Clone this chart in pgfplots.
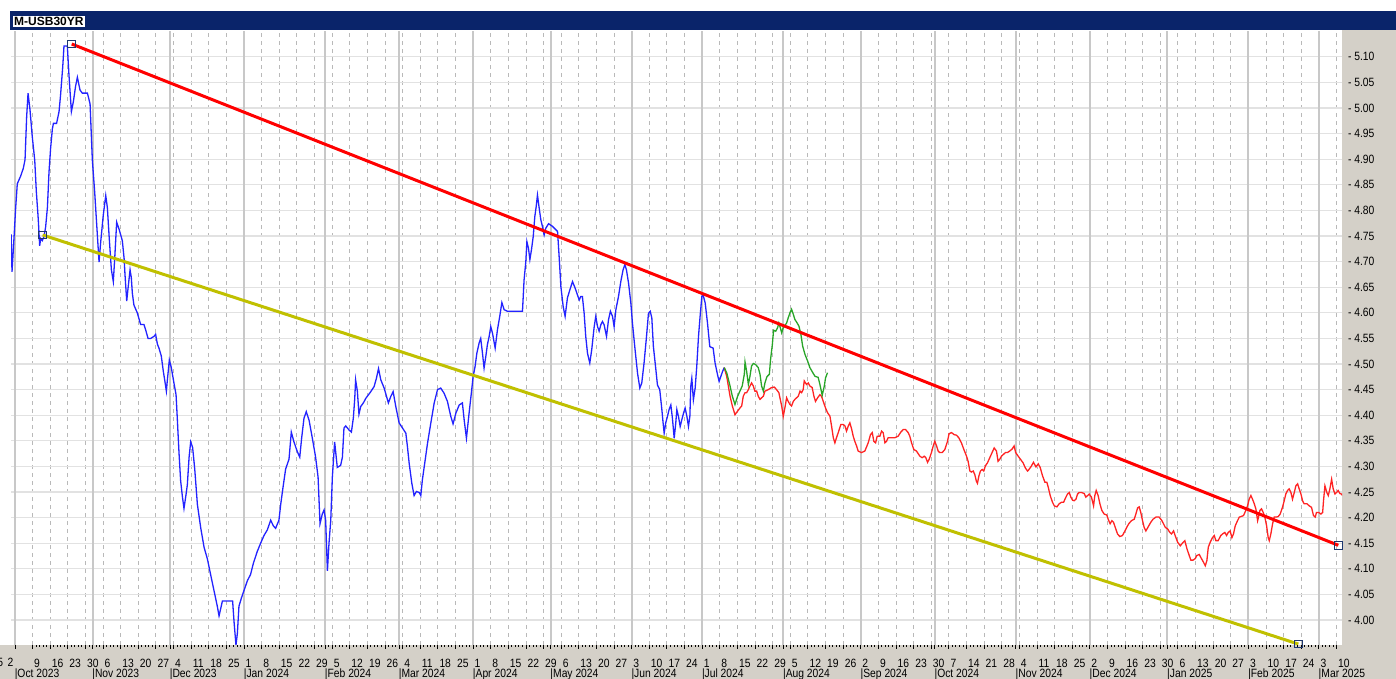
\documentclass[border=0pt]{standalone}
\usepackage{pgfplots}
\pgfplotsset{compat=1.18}
\usepackage{fontspec}
\setmainfont{Liberation Sans}
\newfontfamily\lbl{Liberation Sans}[FakeStretch=0.86]
\definecolor{navybar}{RGB}{10,36,106}
\definecolor{panel}{RGB}{212,208,200}
\definecolor{hgrid}{RGB}{226,226,226}
\definecolor{wgrid}{RGB}{185,185,185}
\definecolor{mgrid}{RGB}{200,200,200}
\definecolor{blueline}{RGB}{35,35,255}
\definecolor{redthin}{RGB}{255,35,35}
\definecolor{greenline}{RGB}{40,165,40}
\definecolor{trendred}{RGB}{255,0,0}
\definecolor{trendyel}{RGB}{192,192,0}
\definecolor{sqnavy}{RGB}{30,55,110}
\begin{document}
\begin{tikzpicture}
\useasboundingbox (0,0) rectangle (698pt,339.5pt);
\fill[white] (0,0) rectangle (698pt,339.5pt);
\fill[panel] (0,0) rectangle (698pt,17pt);
\fill[panel] (671pt,0) rectangle (698pt,324.5pt);
\fill[navybar] (5pt,324.5pt) rectangle (698pt,334pt);
\begin{axis}[
  at={(5.5pt,17pt)}, anchor=south west,
  scale only axis, width=665.5pt, height=307pt,
  xmin=-0.227, xmax=75.31, ymin=3.9512, ymax=5.1504,
  axis x line*=bottom, axis y line*=right,
  axis line style={draw=none},
  tick align=outside,
  major tick length=2pt, minor tick length=1pt,
  xtick={1,...,75},
  xticklabels={9,16,23,30,6,13,20,27,4,11,18,25,1,8,15,22,29,5,12,19,26,4,11,18,25,1,8,15,22,29,6,13,20,27,3,10,17,24,1,8,15,22,29,5,12,19,26,2,9,16,23,30,7,14,21,28,4,11,18,25,2,9,16,23,30,6,13,20,27,3,10,17,24,3,10},
  minor x tick num=4,
  xtick style={black, line width=0.5pt},
  minor x tick style={black, line width=0.5pt},
  xticklabel style={font=\lbl\fontsize{6pt}{7pt}\selectfont, anchor=base west, inner sep=0pt, xshift=0.6pt, yshift=-9.2pt},
  extra x ticks={0,4.4,8.8,13,17.6,21.8,26,30.4,35,39,43.6,48,52.2,56.8,61,65.4,70,74},
  extra x tick labels={|Oct 2023,|Nov 2023,|Dec 2023,|Jan 2024,|Feb 2024,|Mar 2024,|Apr 2024,|May 2024,|Jun 2024,|Jul 2024,|Aug 2024,|Sep 2024,|Oct 2024,|Nov 2024,|Dec 2024,|Jan 2025,|Feb 2025,|Mar 2025},
  extra x tick style={grid=major, major grid style={solid, draw=mgrid, line width=1pt},
     xticklabel style={yshift=-5.2pt, xshift=-0.9pt}},
  ytick={4.00,4.05,4.10,4.15,4.20,4.25,4.30,4.35,4.40,4.45,4.50,4.55,4.60,4.65,4.70,4.75,4.80,4.85,4.90,4.95,5.00,5.05,5.10},
  yticklabels={- 4.00,- 4.05,- 4.10,- 4.15,- 4.20,- 4.25,- 4.30,- 4.35,- 4.40,- 4.45,- 4.50,- 4.55,- 4.60,- 4.65,- 4.70,- 4.75,- 4.80,- 4.85,- 4.90,- 4.95,- 5.00,- 5.05,- 5.10},
  ytick style={draw=none},
  yticklabel style={font=\lbl\fontsize{6pt}{7pt}\selectfont, anchor=west, inner sep=0pt, xshift=0.8pt},
  grid=major,
  major grid style={dash pattern=on 2pt off 2pt, draw=wgrid, line width=0.5pt},
  major y grid style={solid, draw=hgrid, line width=0.6pt},
]
% blue: history
\addplot[blueline, line width=0.65pt, no marks] table {
-0.22 4.753
-0.17 4.680
-0.09 4.726
0.04 4.806
0.13 4.852
0.32 4.867
0.47 4.882
0.57 4.899
0.66 4.982
0.74 5.029
0.85 4.997
0.98 4.944
1.12 4.898
1.21 4.837
1.32 4.783
1.40 4.731
1.46 4.745
1.55 4.741
1.65 4.749
1.74 4.768
1.84 4.806
1.93 4.875
2.02 4.921
2.12 4.959
2.18 4.970
2.36 4.970
2.50 4.993
2.59 5.027
2.71 5.081
2.78 5.121
2.97 5.121
3.06 5.066
3.20 4.993
3.31 5.012
3.44 5.043
3.54 5.060
3.69 5.035
3.82 5.029
4.11 5.029
4.26 5.008
4.39 4.898
4.52 4.837
4.63 4.776
4.77 4.699
4.86 4.737
5.01 4.791
5.15 4.829
5.24 4.806
5.35 4.745
5.47 4.684
5.58 4.661
5.66 4.707
5.77 4.777
5.90 4.764
6.09 4.741
6.19 4.707
6.24 4.676
6.34 4.623
6.41 4.646
6.53 4.684
6.60 4.669
6.66 4.638
6.75 4.615
6.94 4.600
7.13 4.577
7.32 4.577
7.42 4.566
7.55 4.550
7.70 4.550
7.89 4.554
7.98 4.558
8.08 4.539
8.17 4.531
8.30 4.516
8.42 4.485
8.49 4.470
8.59 4.447
8.65 4.470
8.76 4.508
8.87 4.493
9.02 4.463
9.14 4.440
9.21 4.394
9.31 4.325
9.40 4.272
9.50 4.241
9.59 4.218
9.69 4.241
9.78 4.264
9.88 4.318
9.97 4.348
10.08 4.337
10.20 4.295
10.35 4.226
10.54 4.180
10.73 4.142
10.92 4.119
11.10 4.089
11.29 4.058
11.48 4.027
11.58 4.008
11.77 4.037
12.35 4.037
12.43 3.997
12.54 3.951
12.62 3.974
12.71 4.027
12.85 4.043
13.00 4.058
13.19 4.077
13.37 4.089
13.53 4.111
13.75 4.134
13.94 4.150
14.13 4.165
14.32 4.176
14.51 4.195
14.66 4.184
14.79 4.179
14.98 4.195
15.08 4.226
15.23 4.264
15.36 4.295
15.55 4.314
15.68 4.367
15.83 4.348
16.02 4.329
16.16 4.318
16.27 4.356
16.40 4.394
16.53 4.407
16.69 4.390
16.87 4.356
17.06 4.318
17.20 4.279
17.31 4.188
17.44 4.207
17.54 4.215
17.63 4.195
17.73 4.096
17.82 4.150
17.92 4.195
18.01 4.279
18.14 4.348
18.29 4.298
18.48 4.302
18.58 4.318
18.67 4.375
18.77 4.379
18.96 4.371
19.09 4.367
19.20 4.394
19.28 4.432
19.33 4.469
19.43 4.447
19.52 4.402
19.62 4.417
19.77 4.424
19.91 4.433
20.19 4.446
20.38 4.456
20.51 4.472
20.63 4.491
20.76 4.469
20.95 4.453
21.19 4.424
21.33 4.437
21.46 4.446
21.61 4.417
21.80 4.385
21.99 4.375
22.18 4.365
22.27 4.339
22.37 4.306
22.52 4.267
22.65 4.243
22.78 4.251
22.94 4.249
23.03 4.243
23.12 4.274
23.28 4.313
23.41 4.345
23.60 4.385
23.79 4.424
23.98 4.450
24.16 4.453
24.35 4.443
24.54 4.427
24.73 4.398
24.86 4.383
25.02 4.404
25.21 4.420
25.39 4.424
25.49 4.391
25.62 4.355
25.77 4.404
25.92 4.450
26.00 4.476
26.11 4.495
26.21 4.521
26.34 4.541
26.43 4.550
26.53 4.521
26.62 4.492
26.72 4.515
26.81 4.538
26.91 4.554
27.00 4.573
27.10 4.560
27.25 4.531
27.38 4.567
27.51 4.593
27.63 4.620
27.76 4.606
27.95 4.603
28.80 4.603
28.89 4.664
28.99 4.700
29.05 4.739
29.14 4.726
29.22 4.704
29.31 4.723
29.41 4.749
29.50 4.788
29.58 4.808
29.65 4.830
29.75 4.804
29.84 4.782
29.93 4.769
30.03 4.752
30.12 4.765
30.28 4.774
30.50 4.769
30.79 4.759
30.88 4.710
30.98 4.651
31.11 4.612
31.22 4.593
31.35 4.629
31.49 4.645
31.64 4.661
31.79 4.648
31.92 4.635
32.02 4.625
32.11 4.632
32.20 4.632
32.30 4.599
32.39 4.554
32.49 4.521
32.62 4.502
32.73 4.528
32.87 4.573
32.96 4.593
33.06 4.573
33.15 4.564
33.25 4.577
33.34 4.583
33.43 4.577
33.57 4.554
33.68 4.586
33.79 4.603
33.91 4.593
34.00 4.573
34.10 4.606
34.25 4.632
34.38 4.661
34.51 4.684
34.61 4.694
34.70 4.684
34.82 4.658
34.95 4.619
35.04 4.580
35.19 4.528
35.33 4.482
35.46 4.453
35.57 4.463
35.70 4.502
35.84 4.554
35.95 4.599
36.05 4.603
36.14 4.590
36.23 4.534
36.37 4.489
36.46 4.459
36.59 4.450
36.71 4.411
36.78 4.385
36.84 4.365
36.93 4.385
37.03 4.398
37.12 4.411
37.22 4.420
37.31 4.394
37.41 4.355
37.50 4.385
37.56 4.411
37.65 4.398
37.75 4.378
37.84 4.391
37.94 4.404
38.03 4.414
38.13 4.398
38.22 4.378
38.30 4.398
38.35 4.456
38.41 4.472
38.50 4.430
38.60 4.453
38.69 4.495
38.79 4.554
38.88 4.593
38.98 4.632
39.05 4.635
39.17 4.619
39.30 4.580
39.43 4.534
39.62 4.531
39.73 4.502
39.87 4.479
39.96 4.466
40.06 4.476
40.15 4.485
40.25 4.493
};
% thin red
\addplot[redthin, line width=0.65pt, no marks] table {
40.25 4.493
40.39 4.476
40.58 4.437
40.71 4.418
40.86 4.401
41.01 4.408
41.14 4.414
41.24 4.418
41.33 4.437
41.43 4.444
41.52 4.444
41.62 4.450
41.71 4.457
41.80 4.463
41.90 4.457
41.99 4.447
42.09 4.447
42.18 4.437
42.28 4.431
42.37 4.434
42.47 4.437
42.56 4.447
42.75 4.450
42.94 4.454
43.09 4.455
43.22 4.450
43.35 4.444
43.51 4.418
43.60 4.398
43.69 4.414
43.79 4.434
43.88 4.427
43.98 4.421
44.07 4.418
44.17 4.427
44.26 4.431
44.45 4.437
44.55 4.447
44.64 4.444
44.73 4.450
44.79 4.467
44.92 4.460
45.02 4.463
45.11 4.457
45.24 4.454
45.34 4.437
45.43 4.427
45.55 4.434
45.68 4.440
45.77 4.437
45.87 4.427
46.00 4.414
46.11 4.405
46.25 4.398
46.34 4.379
46.44 4.356
46.53 4.346
46.62 4.356
46.72 4.366
46.87 4.382
47.00 4.382
47.10 4.379
47.19 4.369
47.29 4.379
47.38 4.385
47.48 4.373
47.57 4.359
47.66 4.349
47.76 4.340
47.85 4.330
48.04 4.327
48.23 4.330
48.42 4.346
48.55 4.362
48.65 4.366
48.74 4.349
48.84 4.346
48.93 4.359
49.08 4.359
49.18 4.369
49.27 4.366
49.37 4.346
49.46 4.349
49.55 4.356
49.74 4.356
49.93 4.356
50.12 4.359
50.27 4.367
50.41 4.372
50.54 4.372
50.69 4.366
50.78 4.359
50.88 4.346
51.01 4.333
51.16 4.330
51.35 4.320
51.48 4.317
51.60 4.320
51.69 4.317
51.79 4.308
51.88 4.314
52.01 4.327
52.11 4.340
52.20 4.349
52.30 4.340
52.39 4.330
52.48 4.327
52.62 4.327
52.77 4.333
52.92 4.349
53.01 4.364
53.15 4.366
53.30 4.362
53.43 4.361
53.56 4.356
53.71 4.346
53.85 4.333
54.00 4.320
54.09 4.310
54.19 4.291
54.28 4.289
54.38 4.291
54.47 4.284
54.56 4.271
54.62 4.267
54.70 4.281
54.79 4.291
54.89 4.294
54.98 4.291
55.07 4.301
55.19 4.307
55.32 4.317
55.45 4.327
55.57 4.336
55.70 4.330
55.79 4.310
55.89 4.314
55.98 4.320
56.08 4.323
56.21 4.327
56.32 4.327
56.45 4.330
56.59 4.334
56.70 4.340
56.79 4.327
56.93 4.320
57.06 4.314
57.21 4.307
57.34 4.297
57.46 4.291
57.50 4.292
57.65 4.299
57.80 4.308
57.94 4.299
58.07 4.305
58.18 4.298
58.31 4.282
58.45 4.269
58.56 4.269
58.64 4.259
58.75 4.243
58.88 4.230
58.98 4.223
59.13 4.221
59.26 4.227
59.39 4.230
59.51 4.230
59.64 4.240
59.73 4.246
59.83 4.249
59.92 4.240
60.02 4.234
60.11 4.233
60.21 4.236
60.30 4.246
60.39 4.249
60.53 4.249
60.68 4.247
60.77 4.240
60.87 4.243
60.96 4.246
61.09 4.240
61.21 4.223
61.28 4.243
61.36 4.253
61.47 4.243
61.57 4.227
61.68 4.214
61.81 4.207
61.96 4.205
62.06 4.195
62.15 4.188
62.25 4.194
62.34 4.191
62.44 4.181
62.57 4.168
62.70 4.163
62.85 4.165
62.99 4.174
63.14 4.184
63.23 4.189
63.36 4.194
63.52 4.197
63.61 4.207
63.71 4.219
63.80 4.221
63.89 4.210
63.99 4.194
64.08 4.181
64.18 4.174
64.31 4.182
64.46 4.191
64.59 4.197
64.75 4.201
64.93 4.201
65.07 4.195
65.18 4.188
65.28 4.181
65.41 4.178
65.54 4.171
65.63 4.168
65.75 4.174
65.84 4.165
65.98 4.152
66.13 4.145
66.30 4.152
66.39 4.155
66.51 4.139
66.64 4.126
66.73 4.117
66.86 4.117
66.98 4.120
67.07 4.126
67.21 4.128
67.30 4.122
67.43 4.114
67.55 4.106
67.64 4.116
67.72 4.142
67.83 4.152
67.96 4.161
68.06 4.165
68.15 4.155
68.28 4.155
68.43 4.165
68.53 4.168
68.66 4.171
68.76 4.165
68.85 4.171
68.96 4.174
69.06 4.161
69.15 4.168
69.25 4.184
69.38 4.194
69.48 4.201
69.57 4.202
69.72 4.204
69.85 4.214
69.95 4.223
70.04 4.236
70.14 4.243
70.23 4.236
70.33 4.227
70.42 4.217
70.52 4.194
70.57 4.201
70.65 4.214
70.74 4.217
70.84 4.210
70.93 4.201
71.03 4.184
71.12 4.161
71.18 4.155
71.27 4.168
71.37 4.188
71.46 4.201
71.56 4.201
71.69 4.202
71.80 4.207
71.93 4.220
72.03 4.233
72.12 4.246
72.22 4.253
72.31 4.256
72.41 4.249
72.50 4.236
72.60 4.249
72.69 4.262
72.79 4.266
72.88 4.256
72.98 4.246
73.07 4.233
73.16 4.227
73.32 4.227
73.45 4.223
73.58 4.220
73.69 4.204
73.79 4.201
73.86 4.210
73.98 4.210
74.11 4.207
74.21 4.210
74.26 4.233
74.34 4.262
74.45 4.249
74.53 4.243
74.62 4.256
74.72 4.275
74.81 4.256
74.91 4.246
75.00 4.249
75.09 4.253
75.19 4.247
75.28 4.246
75.34 4.243
};
% green
\addplot[greenline, line width=0.65pt, no marks] table {
40.25 4.493
40.39 4.483
40.58 4.457
40.71 4.437
40.86 4.421
41.01 4.437
41.14 4.447
41.27 4.457
41.39 4.480
41.43 4.504
41.52 4.486
41.62 4.460
41.71 4.476
41.80 4.496
41.90 4.501
42.03 4.499
42.18 4.493
42.28 4.480
42.37 4.457
42.47 4.447
42.56 4.463
42.67 4.475
42.81 4.480
42.88 4.509
42.98 4.538
43.05 4.566
43.17 4.564
43.28 4.571
43.35 4.580
43.43 4.571
43.51 4.561
43.60 4.571
43.69 4.575
43.79 4.580
43.88 4.590
43.98 4.600
44.07 4.607
44.17 4.597
44.26 4.587
44.39 4.580
44.49 4.574
44.60 4.558
44.70 4.535
44.83 4.519
44.98 4.506
45.11 4.493
45.26 4.484
45.40 4.476
45.58 4.474
45.68 4.460
45.81 4.439
45.93 4.457
46.00 4.473
46.11 4.483
};
% trend lines
\addplot[trendred, line width=1.5pt, no marks] coordinates {(3.22,5.125) (75.1,4.146)};
\addplot[trendyel, line width=1.5pt, no marks] coordinates {(1.57,4.752) (72.83,3.953)};
% end-point handles
\addplot[only marks, mark=square, mark size=1.9pt, mark options={draw=sqnavy, line width=0.5pt, fill=none}] coordinates {(3.22,5.125) (75.1,4.146) (1.57,4.752) (72.83,3.953)};
\end{axis}
\node[font=\lbl\fontsize{6pt}{7pt}\selectfont, anchor=base east, inner sep=0pt] at (1.8pt,6pt) {25};
\node[font=\lbl\fontsize{6pt}{7pt}\selectfont, anchor=base west, inner sep=0pt] at (3.6pt,6pt) {2};
\node[font=\bfseries\fontsize{6pt}{7pt}\selectfont, fill=white, text=black, anchor=west, inner sep=0.6pt] at (6.3pt,328.9pt) {M-USB30YR};
\end{tikzpicture}
\end{document}
